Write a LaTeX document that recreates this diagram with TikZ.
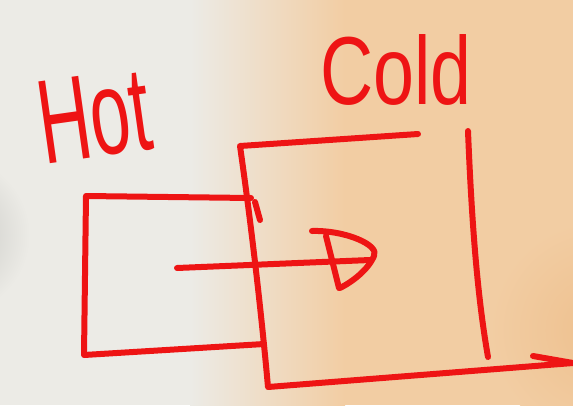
\documentclass[tikz,border=0pt]{standalone}
\usepackage{fontspec}
\setmainfont{Liberation Sans}
\definecolor{ink}{HTML}{EE1414}
\definecolor{bgL}{HTML}{ECEBE6}
\definecolor{bgR}{HTML}{F2CDA3}
\definecolor{bgG}{HTML}{C4C4C0}
\definecolor{bgD}{HTML}{EEC08E}
\begin{document}
\begin{tikzpicture}[x=1pt,y=-1pt,
  pen/.style={draw=ink, line width=6pt, line cap=round, line join=round},
  label/.style={text=ink, inner sep=0pt}]
\useasboundingbox (0,0) rectangle (573,405);
% background
\fill[bgL] (0,0) rectangle (191,405);
\shade[left color=bgL, right color=bgR] (190,0) rectangle (345,405);
\fill[bgR] (344,0) rectangle (573,405);
\shade[inner color=bgG, outer color=bgL] (-50,235) circle (80);
\shade[inner color=bgD, outer color=bgR] (600,330) circle (110);
% texts
\node[label, font=\fontsize{100}{100}\selectfont, rotate=8, xscale=0.72, yscale=1.2] (hot) at (94,116) {Hot};
\node[label, font=\fontsize{92}{92}\selectfont, xscale=0.8, yscale=1.05] (cold) at (396,70) {Cold};
% coordinates
\coordinate (hTR) at (251,198);
\coordinate (hTL) at (86,196);
\coordinate (hBL) at (84,355);
\coordinate (hBR) at (264,344);
\coordinate (cTR) at (418,134);
\coordinate (cTL) at (240,146);
\coordinate (cBL) at (268,387);
\coordinate (cBR) at (573,363);
\coordinate (barb) at (533,356);
\coordinate (wTop) at (468,131);
\coordinate (wBot) at (488,357);
\coordinate (tickA) at (255,202);
\coordinate (tickB) at (260,220);
\coordinate (aTail) at (177,268);
\coordinate (aTip) at (370,260);
% hot box
\draw[pen] (hTR) -- (hTL) -- (hBL) -- (hBR);
\draw[pen] (tickA) -- (tickB);
% cold region
\draw[pen] (cTR) -- (cTL) .. controls (252,230) and (262,320) .. (cBL) -- (cBR);
\draw[pen] (barb) -- (cBR);
\draw[pen] (wTop) .. controls (472,230) and (478,300) .. (wBot);
% arrow
\draw[pen] (aTail) -- (aTip);
\draw[pen] (312,231) .. controls (345,230) and (380,245) .. (374,256)
  .. controls (368,270) and (352,282) .. (340,288);
\draw[pen] (326,236) -- (339,288);
\end{tikzpicture}
\end{document}
